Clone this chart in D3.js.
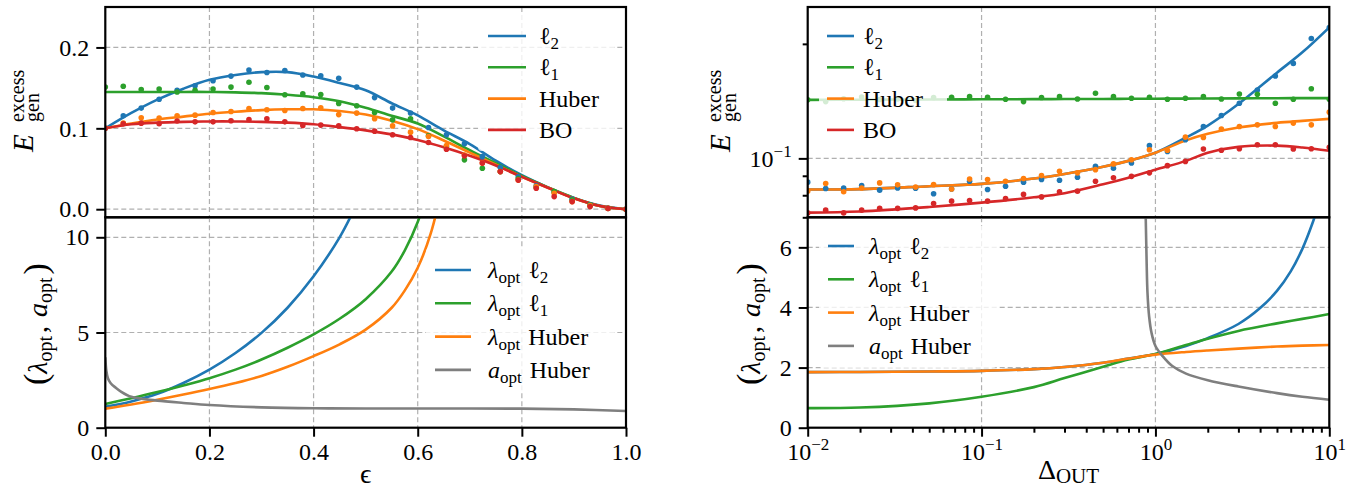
<!DOCTYPE html>
<html>
<head>
<meta charset="utf-8">
<script src="https://cdn.jsdelivr.net/npm/d3@7"></script>
<style>
body { margin: 0; background: #fff; }
text { font-family: "Liberation Serif", "DejaVu Serif", serif; fill: #000; }
</style>
</head>
<body>
<div id="chart"></div>
<script>
// ---------- datos: panel izquierdo (eje epsilon) ----------
const epsLine = [0, 0.05, 0.1, 0.15, 0.2, 0.25, 0.3, 0.35, 0.4, 0.45, 0.5, 0.55, 0.6, 0.65, 0.7, 0.75, 0.8, 0.85, 0.9, 0.95, 1.0]
const errL2 = [0.1, 0.119, 0.1355, 0.149, 0.16, 0.166, 0.1695, 0.1695, 0.164, 0.156, 0.147, 0.131, 0.116, 0.0975, 0.0805, 0.06, 0.042, 0.027, 0.014, 0.0045, 0]
const errL1 = [0.145, 0.145, 0.145, 0.145, 0.145, 0.1445, 0.1435, 0.1415, 0.1385, 0.1335, 0.1255, 0.1155, 0.106, 0.09, 0.073, 0.057, 0.041, 0.027, 0.014, 0.004, 0]
const errHuber = [0.1, 0.106, 0.111, 0.1145, 0.118, 0.1205, 0.1225, 0.1235, 0.1235, 0.1215, 0.117, 0.1095, 0.099, 0.085, 0.07, 0.055, 0.04, 0.0265, 0.0135, 0.004, 0]
const errBO = [0.1, 0.105, 0.107, 0.108, 0.1085, 0.1085, 0.108, 0.107, 0.105, 0.1015, 0.0975, 0.0925, 0.0855, 0.0765, 0.066, 0.054, 0.04, 0.0265, 0.0135, 0.004, 0]

const epsDots = [0, 0.0345, 0.069, 0.1034, 0.1379, 0.1724, 0.2069, 0.2414, 0.2759, 0.3103, 0.3448, 0.3793, 0.4138, 0.4483, 0.4828, 0.5172, 0.5517, 0.5862, 0.6207, 0.6552, 0.6897, 0.7241, 0.7586, 0.7931, 0.8276, 0.8621, 0.8966, 0.931, 0.9655, 1.0]
const simL2 = [0.1, 0.1155, 0.125, 0.136, 0.147, 0.1526, 0.1588, 0.1646, 0.172, 0.169, 0.1715, 0.166, 0.165, 0.162, 0.151, 0.138, 0.125, 0.119, 0.101, 0.092, 0.081, 0.065, 0.0515, 0.04, 0.029, 0.021, 0.0127, 0.0053, 0.0012, 0]
const simL1 = [0.151, 0.152, 0.148, 0.1485, 0.145, 0.147, 0.1485, 0.151, 0.157, 0.1505, 0.1415, 0.1427, 0.1418, 0.1307, 0.128, 0.1196, 0.1105, 0.1118, 0.0907, 0.0775, 0.061, 0.0507, 0.0465, 0.0375, 0.027, 0.0218, 0.0115, 0.005, 0.001, 0]
const simHuber = [0.1, 0.1064, 0.113, 0.1126, 0.1155, 0.1163, 0.1196, 0.1208, 0.1245, 0.1229, 0.122, 0.1245, 0.1254, 0.117, 0.1188, 0.1118, 0.103, 0.0953, 0.0899, 0.0787, 0.067, 0.057, 0.0465, 0.036, 0.028, 0.0198, 0.0094, 0.0045, 0.001, 0]
const simBO = [0.1, 0.1056, 0.1064, 0.1056, 0.109, 0.108, 0.108, 0.1093, 0.111, 0.1118, 0.108, 0.1035, 0.104, 0.103, 0.0994, 0.0965, 0.092, 0.0886, 0.0824, 0.0742, 0.066, 0.057, 0.0465, 0.036, 0.026, 0.0156, 0.0094, 0.0032, 0.001, 0]

const epsLamL2 = [0, 0.05, 0.1, 0.15, 0.2, 0.25, 0.3, 0.35, 0.4, 0.45, 0.475, 0.5]
const lamL2 = [1.1, 1.38, 1.78, 2.35, 3.05, 3.92, 4.98, 6.3, 7.95, 10.0, 11.3, 12.8]
const epsLamL1 = [0, 0.05, 0.1, 0.15, 0.2, 0.25, 0.3, 0.35, 0.4, 0.45, 0.5, 0.55, 0.575, 0.6, 0.625]
const lamL1 = [1.25, 1.55, 1.87, 2.22, 2.6, 3.05, 3.58, 4.2, 4.9, 5.72, 6.75, 8.2, 9.3, 10.8, 13]
const epsLamHuber = [0, 0.05, 0.1, 0.15, 0.2, 0.25, 0.3, 0.35, 0.4, 0.45, 0.5, 0.55, 0.575, 0.6, 0.625, 0.65]
const lamHuber = [1.0, 1.22, 1.47, 1.74, 2.03, 2.35, 2.72, 3.2, 3.76, 4.38, 5.15, 6.3, 7.2, 8.4, 10.2, 13]
const epsAHuber = [0, 0.002, 0.005, 0.01, 0.02, 0.03, 0.05, 0.075, 0.1, 0.15, 0.2, 0.3, 0.4, 0.5, 0.6, 0.7, 0.8, 0.9, 1.0]
const aHuber = [3.7, 3.0, 2.6, 2.35, 2.1, 1.9, 1.62, 1.5, 1.42, 1.3, 1.19, 1.07, 1.02, 1.01, 1.01, 1.01, 1.0, 0.96, 0.88]

// ---------- datos: panel derecho (eje Delta_OUT, log) ----------
const delLine = [0.01, 0.02, 0.05, 0.1, 0.2, 0.3, 0.5, 0.7, 1, 1.5, 2, 3, 5, 7, 10]
const errDL2 = [0.0828, 0.083, 0.0845, 0.0857, 0.0885, 0.091, 0.095, 0.0985, 0.1035, 0.1135, 0.122, 0.139, 0.168, 0.19, 0.221]
const errDL1 = [0.1425, 0.1426, 0.1428, 0.143, 0.1431, 0.1432, 0.1433, 0.1434, 0.1435, 0.1436, 0.1437, 0.1438, 0.1439, 0.144, 0.144]
const errDHuber = [0.0828, 0.083, 0.0845, 0.0857, 0.0885, 0.091, 0.095, 0.0985, 0.1035, 0.1115, 0.116, 0.1205, 0.124, 0.1255, 0.127]
const errDBO = [0.072, 0.0725, 0.0745, 0.0765, 0.079, 0.081, 0.0855, 0.089, 0.0934, 0.0985, 0.1035, 0.1072, 0.108, 0.1068, 0.1047]

const delDots = [0.01, 0.01269, 0.0161, 0.02043, 0.02593, 0.0329, 0.04175, 0.05298, 0.06723, 0.08532, 0.10826, 0.13738, 0.17433, 0.22122, 0.28072, 0.35622, 0.45204, 0.57362, 0.7279, 0.92367, 1.1721, 1.4874, 1.8874, 2.395, 3.0392, 3.8566, 4.8939, 6.2102, 7.8805, 10]
const simDL2 = [0.0866, 0.0833, 0.0836, 0.0848, 0.0825, 0.0836, 0.0835, 0.0807, 0.0831, 0.0871, 0.0828, 0.0845, 0.0866, 0.088, 0.0876, 0.0892, 0.0953, 0.0942, 0.0972, 0.108, 0.1043, 0.1119, 0.1213, 0.1296, 0.1396, 0.1513, 0.1646, 0.1777, 0.2066, 0.2208]
const simDL1 = [0.1425, 0.141, 0.1435, 0.145, 0.1428, 0.1432, 0.142, 0.1445, 0.1448, 0.1453, 0.1448, 0.143, 0.141, 0.1445, 0.1453, 0.1433, 0.1483, 0.1453, 0.1439, 0.1448, 0.143, 0.1439, 0.1453, 0.1433, 0.1477, 0.1474, 0.1396, 0.143, 0.1524, 0.143]
const simDHuber = [0.082, 0.0859, 0.0817, 0.0836, 0.0862, 0.0852, 0.0841, 0.0853, 0.0831, 0.0883, 0.088, 0.0871, 0.0885, 0.0901, 0.0925, 0.0916, 0.0934, 0.0967, 0.0992, 0.1054, 0.105, 0.1137, 0.1135, 0.1194, 0.1213, 0.1225, 0.1213, 0.1238, 0.1225, 0.1323]
const simDBO = [0.0719, 0.0731, 0.0719, 0.0731, 0.0739, 0.0739, 0.0741, 0.0761, 0.0772, 0.0775, 0.0772, 0.0784, 0.0804, 0.0792, 0.0817, 0.082, 0.0871, 0.0889, 0.0897, 0.0916, 0.0957, 0.0982, 0.1058, 0.105, 0.106, 0.1086, 0.1086, 0.1058, 0.106, 0.1069]

const delLamL2 = [0.01, 0.02, 0.05, 0.1, 0.2, 0.3, 0.5, 0.7, 1, 1.5, 2, 3, 4, 5, 6, 7, 8, 9, 10]
const lamDL2 = [1.85, 1.855, 1.87, 1.89, 1.95, 2.02, 2.16, 2.3, 2.45, 2.72, 2.98, 3.45, 3.98, 4.55, 5.2, 5.95, 6.8, 7.7, 8.6]
const lamDL1 = [0.65, 0.67, 0.81, 1.03, 1.35, 1.65, 2.03, 2.27, 2.45, 2.75, 2.96, 3.22, 3.47, 3.62, 3.78]
const lamDHuber = [1.85, 1.855, 1.87, 1.89, 1.95, 2.02, 2.16, 2.3, 2.43, 2.52, 2.57, 2.63, 2.7, 2.73, 2.75]
const delAHuber = [0.87, 0.88, 0.89, 0.9, 0.92, 0.95, 1.0, 1.1, 1.25, 1.5, 2, 3, 5, 7, 10]
const aDHuber = [8.5, 6.9, 5.5, 4.5, 3.7, 3.15, 2.72, 2.38, 2.05, 1.8, 1.58, 1.37, 1.15, 1.03, 0.93]

const ticksEps = [0, 0.2, 0.4, 0.6, 0.8, 1.0]
const ticksErr = [0, 0.1, 0.2]
const ticksLam = [0, 5, 10]
const ticksLamD = [0, 2, 4, 6]
const ticksDel = [0.01, 0.1, 1, 10]

//Colores
const azul = "#1f77b4", verde = "#2ca02c", naranja = "#ff7f0e", rojo = "#d62728", gris = "#7f7f7f"

//Constantes
const width = 1360
const height = 489
const colL = [105.3, 626]
const colR = [807.7, 1329.3]
const rowT = [217.3, 7]
const rowB = [427.7, 217.3]

const svg = d3.select("#chart").append("svg")
    .attr("width", width)
    .attr("height", height)

//Escalas
const xEps = d3.scaleLinear().domain([0, 1]).range(colL)
const xDel = d3.scaleLog().domain([0.01, 10]).range(colR)
const yErr = d3.scaleLinear().domain([-0.01, 0.25]).range(rowT)
const yLam = d3.scaleLinear().domain([0, 11.05]).range(rowB)
const yErrD = d3.scaleLog().domain([0.07, 0.25]).range(rowT)
const yLamD = d3.scaleLinear().domain([0, 7]).range(rowB)

let clipId = 0
function panel(x, y) {
    const g = svg.append("g")
    const [xa, xb] = x.range(), [ya, yb] = y.range()
    const id = "clip" + (clipId++)
    g.append("clipPath").attr("id", id).append("rect")
        .attr("x", xa).attr("y", yb).attr("width", xb - xa).attr("height", ya - yb)
    const grid = g.append("g")
    const plot = g.append("g").attr("clip-path", `url(#${id})`)
    const top = g.append("g")
    return { g, grid, plot, top, x, y, box: [xa, yb, xb - xa, ya - yb] }
}

function gridLines(p, xs, ys) {
    const [bx, by, bw, bh] = p.box
    p.grid.selectAll(null).data(xs).enter().append("line")
        .attr("x1", d => p.x(d)).attr("x2", d => p.x(d))
        .attr("y1", by).attr("y2", by + bh)
        .attr("stroke", "#b0b0b0").attr("stroke-width", 1.2).attr("stroke-dasharray", "5,3")
    p.grid.selectAll(null).data(ys).enter().append("line")
        .attr("y1", d => p.y(d)).attr("y2", d => p.y(d))
        .attr("x1", bx).attr("x2", bx + bw)
        .attr("stroke", "#b0b0b0").attr("stroke-width", 1.2).attr("stroke-dasharray", "5,3")
}

function curve(p, xs, ys, color) {
    p.plot.append("path")
        .datum(xs.map((d, i) => [d, ys[i]]))
        .attr("fill", "none")
        .attr("stroke", color)
        .attr("stroke-width", 2.6)
        .attr("d", d3.line().x(d => p.x(d[0])).y(d => p.y(d[1])).curve(d3.curveCatmullRom.alpha(0.5)))
}

function dots(p, xs, ys, color) {
    p.plot.append("g").selectAll("circle")
        .data(xs.map((d, i) => [d, ys[i]]))
        .enter().append("circle")
        .attr("cx", d => p.x(d[0])).attr("cy", d => p.y(d[1]))
        .attr("r", 2.8).attr("fill", color)
}

// texto con subindices / cursiva
function richText(sel, segs, subSize, subShift = 5) {
    let shift = 0
    segs.forEach(s => {
        const want = s.sub ? subShift : (s.sup ? -10 : 0)
        const ts = sel.append("tspan").text(s.t).attr("dy", want - shift)
        if (s.it) ts.attr("font-style", "italic")
        if (s.sub || s.sup) ts.attr("font-size", subSize)
        if (s.size) ts.attr("font-size", s.size)
        if (s.dx) ts.attr("dx", s.dx)
        shift = want
    })
}

function legend(p, items, o) {
    p.top.append("rect")
        .attr("x", o.box[0]).attr("y", o.box[1]).attr("width", o.box[2]).attr("height", o.box[3])
        .attr("rx", 4).attr("fill", "#fff").attr("fill-opacity", 0.8)
    items.forEach((it, i) => {
        const yy = o.y0 + i * o.dy
        p.top.append("line")
            .attr("x1", o.hx).attr("x2", o.hx + o.hl).attr("y1", yy).attr("y2", yy)
            .attr("stroke", it.color).attr("stroke-width", 2.6)
        const t = p.top.append("text").attr("x", o.tx).attr("y", yy + 8).attr("font-size", 24)
        richText(t, it.label, 17)
    })
}

function spines(p) {
    const [bx, by, bw, bh] = p.box
    p.top.append("rect").attr("x", bx).attr("y", by).attr("width", bw).attr("height", bh)
        .attr("fill", "none").attr("stroke", "#000").attr("stroke-width", 2.2)
}

function styleAxis(g) {
    g.select(".domain").remove()
    g.attr("font-size", 24).attr("font-family", null)
    g.selectAll(".tick line").attr("stroke", "#000").attr("stroke-width", 2)
}

function sup10(g) {
    g.selectAll(".tick text").each(function(d) {
        const t = d3.select(this).text(null)
        const e = Math.round(Math.log10(d))
        t.append("tspan").text("10")
        t.append("tspan").attr("dy", -10).attr("font-size", 17).text(String(e).replace("-", "\u2212"))
    })
}

const lab = {
    l2: [{ t: "\u2113" }, { t: "2", sub: 1 }],
    l1: [{ t: "\u2113" }, { t: "1", sub: 1 }],
    hub: [{ t: "Huber" }],
    bo: [{ t: "BO" }],
    lamL2: [{ t: "\u03bb", it: 1 }, { t: "opt", sub: 1 }, { t: "\u00a0", dx: 2 }, { t: "\u2113" }, { t: "2", sub: 1 }],
    lamL1: [{ t: "\u03bb", it: 1 }, { t: "opt", sub: 1 }, { t: "\u00a0", dx: 2 }, { t: "\u2113" }, { t: "1", sub: 1 }],
    lamHub: [{ t: "\u03bb", it: 1 }, { t: "opt", sub: 1 }, { t: "\u00a0Huber", dx: 2 }],
    aHub: [{ t: "a", it: 1 }, { t: "opt", sub: 1 }, { t: "\u00a0Huber", dx: 2 }]
}

// ---------- panel superior izquierdo ----------
const pTL = panel(xEps, yErr)
gridLines(pTL, [0.2, 0.4, 0.6, 0.8], ticksErr)
curve(pTL, epsLine, errL2, azul)
curve(pTL, epsLine, errL1, verde)
curve(pTL, epsLine, errHuber, naranja)
curve(pTL, epsLine, errBO, rojo)
dots(pTL, epsDots, simL2, azul)
dots(pTL, epsDots, simL1, verde)
dots(pTL, epsDots, simHuber, naranja)
dots(pTL, epsDots, simBO, rojo)
legend(pTL, [
    { color: azul, label: lab.l2 }, { color: verde, label: lab.l1 },
    { color: naranja, label: lab.hub }, { color: rojo, label: lab.bo }
], { box: [478, 15, 136, 136], y0: 36, dy: 31.3, hx: 488, hl: 38, tx: 539 })
spines(pTL)
pTL.top.append("g").attr("transform", `translate(${colL[0]},0)`)
    .call(d3.axisLeft(yErr).tickValues(ticksErr).tickSize(9).tickPadding(7).tickFormat(d3.format(".1f")))
    .call(styleAxis)

// ---------- panel inferior izquierdo ----------
const pBL = panel(xEps, yLam)
gridLines(pBL, [0.2, 0.4, 0.6, 0.8], [5, 10])
curve(pBL, epsLamL2, lamL2, azul)
curve(pBL, epsLamL1, lamL1, verde)
curve(pBL, epsLamHuber, lamHuber, naranja)
curve(pBL, epsAHuber, aHuber, gris)
legend(pBL, [
    { color: azul, label: lab.lamL2 }, { color: verde, label: lab.lamL1 },
    { color: naranja, label: lab.lamHub }, { color: gris, label: lab.aHub }
], { box: [426, 248, 188, 144], y0: 270, dy: 33.3, hx: 435, hl: 36, tx: 488 })
spines(pBL)
pBL.top.append("g").attr("transform", `translate(${colL[0]},0)`)
    .call(d3.axisLeft(yLam).tickValues(ticksLam).tickSize(9).tickPadding(7).tickFormat(d3.format("d")))
    .call(styleAxis)
pBL.top.append("g").attr("transform", `translate(0,${rowB[0]})`)
    .call(d3.axisBottom(xEps).tickValues(ticksEps).tickSize(9).tickPadding(6).tickFormat(d3.format(".1f")))
    .call(styleAxis)

// ---------- panel superior derecho ----------
const pTR = panel(xDel, yErrD)
gridLines(pTR, [0.1, 1], [0.1])
curve(pTR, delLine, errDL2, azul)
curve(pTR, delLine, errDL1, verde)
curve(pTR, delLine, errDHuber, naranja)
curve(pTR, delLine, errDBO, rojo)
dots(pTR, delDots, simDL2, azul)
dots(pTR, delDots, simDL1, verde)
dots(pTR, delDots, simDHuber, naranja)
dots(pTR, delDots, simDBO, rojo)
legend(pTR, [
    { color: azul, label: lab.l2 }, { color: verde, label: lab.l1 },
    { color: naranja, label: lab.hub }, { color: rojo, label: lab.bo }
], { box: [819, 15, 128, 136], y0: 36, dy: 31.3, hx: 827, hl: 27, tx: 863 })
spines(pTR)
pTR.top.append("g").attr("transform", `translate(${colR[0]},0)`)
    .call(d3.axisLeft(yErrD).tickValues([0.1]).tickSize(9).tickPadding(7))
    .call(styleAxis).call(sup10)
pTR.top.append("g").attr("transform", `translate(${colR[0]},0)`)
    .call(d3.axisLeft(yErrD).tickValues([0.07, 0.08, 0.09, 0.2]).tickSize(5).tickFormat(""))
    .call(styleAxis)

// ---------- panel inferior derecho ----------
const pBR = panel(xDel, yLamD)
gridLines(pBR, [0.1, 1], [2, 4, 6])
curve(pBR, delLamL2, lamDL2, azul)
curve(pBR, delLine, lamDL1, verde)
curve(pBR, delLine, lamDHuber, naranja)
curve(pBR, delAHuber, aDHuber, gris)
legend(pBR, [
    { color: azul, label: lab.lamL2 }, { color: verde, label: lab.lamL1 },
    { color: naranja, label: lab.lamHub }, { color: gris, label: lab.aHub }
], { box: [819, 226, 178, 142], y0: 246, dy: 33.3, hx: 828, hl: 26, tx: 869 })
spines(pBR)
pBR.top.append("g").attr("transform", `translate(${colR[0]},0)`)
    .call(d3.axisLeft(yLamD).tickValues(ticksLamD).tickSize(9).tickPadding(7).tickFormat(d3.format("d")))
    .call(styleAxis)
pBR.top.append("g").attr("transform", `translate(0,${rowB[0]})`)
    .call(d3.axisBottom(xDel).tickValues(ticksDel).tickSize(9).tickPadding(6))
    .call(styleAxis).call(sup10)
const menores = []
ticksDel.slice(0, 3).forEach(b => [2, 3, 4, 5, 6, 7, 8, 9].forEach(m => menores.push(b * m)))
pBR.top.append("g").attr("transform", `translate(0,${rowB[0]})`)
    .call(d3.axisBottom(xDel).tickValues(menores).tickSize(5).tickFormat(""))
    .call(styleAxis)

// ---------- etiquetas de ejes ----------
function yLabelErr(x, y) {
    const g = svg.append("g").attr("transform", `translate(${x},${y}) rotate(-90)`)
    g.append("text").attr("x", 0).attr("y", 0).attr("font-size", 29).attr("font-style", "italic").text("E")
    g.append("text").attr("x", 30).attr("y", -9).attr("font-size", 20).text("excess")
    g.append("text").attr("x", 30).attr("y", 6).attr("font-size", 20).text("gen")
}
yLabelErr(33, 152)
yLabelErr(730, 152)

function yLabelLam(x, y) {
    const t = svg.append("text").attr("transform", `translate(${x},${y}) rotate(-90)`)
        .attr("text-anchor", "middle").attr("font-size", 28)
    richText(t, [
        { t: "(", size: 34 }, { t: "\u03bb", it: 1 }, { t: "opt", sub: 1 }, { t: ",", dx: 3 },
        { t: "\u00a0", dx: 2 }, { t: "a", it: 1 }, { t: "opt", sub: 1 }, { t: ")", size: 34, dx: 3 }
    ], 20)
}
yLabelLam(47, 324)
yLabelLam(760, 324)

svg.append("text").attr("x", (colL[0] + colL[1]) / 2).attr("y", 483)
    .attr("text-anchor", "middle").attr("font-size", 28).text("\u03f5")
const dl = svg.append("text").attr("x", (colR[0] + colR[1]) / 2).attr("y", 479)
    .attr("text-anchor", "middle").attr("font-size", 28)
richText(dl, [{ t: "\u0394" }, { t: "OUT", sub: 1 }], 21, 4)
</script>
</body>
</html>
